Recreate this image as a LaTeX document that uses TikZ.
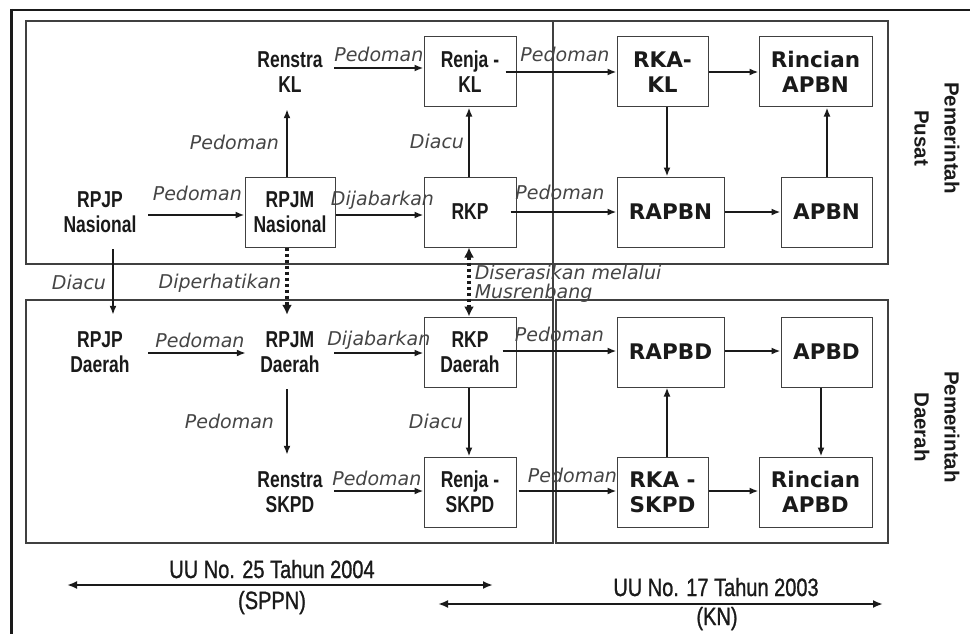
\documentclass[tikz,border=0pt]{standalone}
\usepackage{fontspec}
\setmainfont{Liberation Sans}
\newfontfamily\narrowfont[FakeStretch=0.76]{Liberation Sans}
\newfontfamily\legfont[FakeStretch=0.8,FakeBold=1]{Liberation Sans}
\newfontfamily\dvfont{DejaVu Sans}
\usetikzlibrary{arrows.meta}
\definecolor{ink}{HTML}{1A1A1A}
\definecolor{framec}{HTML}{404040}
\definecolor{lblc}{HTML}{454545}
\begin{document}
\begin{tikzpicture}[x=1pt,y=-1pt,
  txt/.style={text=ink, align=center, font=\narrowfont\bfseries\fontsize{23}{25}\selectfont, inner sep=0pt, minimum height=74pt, minimum width=88pt},
  nbox/.style={draw=framec, line width=1pt, text=ink, align=center, font=\narrowfont\bfseries\fontsize{23}{25}\selectfont, inner sep=0pt, minimum height=70pt},
  wbox/.style={nbox, font=\dvfont\bfseries\fontsize{21.5}{25}\selectfont},
  arr/.style={draw=ink, line width=2pt, -{Latex[length=9pt,width=7pt]}},
  dotarr/.style={draw=ink, line width=3.5pt, dash pattern=on 3pt off 3pt, -{Latex[length=10pt,width=10pt]}},
  dotboth/.style={draw=ink, line width=3.5pt, dash pattern=on 3pt off 3pt, {Latex[length=10pt,width=10pt]}-{Latex[length=10pt,width=10pt]}},
  lbl/.style={text=lblc, font=\dvfont\itshape\fontsize{19}{18.5}\selectfont, inner sep=0pt, anchor=base},
  vlbl/.style={lbl, anchor=base east},
  panel/.style={draw=framec, line width=1.1pt},
  leg/.style={text=ink, font=\legfont\fontsize{25}{28}\selectfont, inner sep=0pt, anchor=base},
  side/.style={text=ink, rotate=-90, align=center, font=\bfseries\fontsize{20.5}{30}\selectfont, inner sep=0pt},
  legarr/.style={draw=ink, line width=2pt, {Latex[length=10pt,width=8pt]}-{Latex[length=10pt,width=8pt]}}
]
\fill[white] (0,0) rectangle (970,634);
\useasboundingbox (0,0) rectangle (970,634);

% outer frame
\draw[ink, line width=2pt] (10,10) -- (970,10);
\draw[ink, line width=3pt] (11,9) -- (11,634);

% panels
\draw[panel] (26,21) rectangle (888,264);
\draw[panel] (553,21) -- (553,543);
\draw[panel] (26,300) rectangle (553,543);
\draw[panel] (556,300) rectangle (888,543);

% top nodes
\node[txt] (renstrakl) at (290,72) {Renstra\\KL};
\node[nbox, minimum width=92pt] (renjakl) at (470,72) {Renja -\\KL};
\node[wbox, minimum width=91pt] (rkakl) at (662.5,72) {RKA-\\KL};
\node[wbox, minimum width=113pt] (rincianapbn) at (815.5,72) {Rincian\\APBN};
\node[txt, minimum width=96pt] (rpjpn) at (100,212) {RPJP\\Nasional};
\node[nbox, minimum width=90pt] (rpjmn) at (290,212) {RPJM\\Nasional};
\node[nbox, minimum width=92pt] (rkp) at (470,212) {RKP};
\node[wbox, minimum width=107pt] (rapbn) at (670.5,212) {RAPBN};
\node[wbox, minimum width=91pt] (apbn) at (826.5,212) {APBN};

% bottom nodes
\node[txt, minimum width=96pt] (rpjpd) at (100,352) {RPJP\\Daerah};
\node[txt] (rpjmd) at (290,352) {RPJM\\Daerah};
\node[nbox, minimum width=92pt] (rkpd) at (470,352) {RKP\\Daerah};
\node[wbox, minimum width=107pt] (rapbd) at (670.5,352) {RAPBD};
\node[wbox, minimum width=91pt] (apbd) at (826.5,352) {APBD};
\node[txt] (renstraskpd) at (290,492) {Renstra\\SKPD};
\node[nbox, minimum width=92pt] (renjaskpd) at (470,492) {Renja -\\SKPD};
\node[wbox, minimum width=91pt] (rkaskpd) at (662.5,492) {RKA -\\SKPD};
\node[wbox, minimum width=113pt] (rincianapbd) at (815.5,492) {Rincian\\APBD};

% side titles
\node[side] (pusat) at (937,138) {Pemerintah\\Pusat};
\node[side] (daerah) at (937,427) {Pemerintah\\Daerah};

% top horizontal arrows
\draw[arr] ([yshift=4pt]renstrakl.east) -- node[lbl, yshift=6pt] (lp1) {Pedoman} ([yshift=4pt]renjakl.west);
\draw[arr] ([xshift=-11pt]renjakl.east) -- node[lbl, yshift=10pt, xshift=4pt] (lp2) {Pedoman} (rkakl.west);
\draw[arr] (rkakl.east) -- (rincianapbn.west);
\draw[arr] ([yshift=-3pt]rpjpn.east) -- node[lbl, yshift=15pt, xshift=1pt] (lp3) {Pedoman} ([yshift=-3pt]rpjmn.west);
\draw[arr] ([yshift=-3pt]rpjmn.east) -- node[lbl, yshift=10pt, xshift=3pt] (lj1) {Dijabarkan} ([yshift=-3pt]rkp.west);
\draw[arr] ([xshift=-6pt]rkp.east) -- node[lbl, yshift=13pt, xshift=-3.5pt] (lp4) {Pedoman} (rapbn.west);
\draw[arr] (rapbn.east) -- (apbn.west);

% top vertical arrows
\draw[arr] ([xshift=-3pt]rpjmn.north) -- node[vlbl, xshift=-7pt, yshift=-7pt] (lp5) {Pedoman} ([xshift=-3pt]renstrakl.south);
\draw[arr] ([xshift=-1pt]rkp.north) -- node[vlbl, xshift=-4pt, yshift=-6pt] (ld1) {Diacu} ([xshift=-1pt]renjakl.south);
\draw[arr] ([xshift=4.5pt]rkakl.south) -- ([xshift=-3.5pt]rapbn.north);
\draw[arr] ([xshift=0.5pt]apbn.north) -- ([xshift=11.5pt]rincianapbn.south);

% links between levels
\draw[arr] ([xshift=13pt]rpjpn.south) -- node[vlbl, xshift=-6pt, yshift=-7pt] (ld2) {Diacu} ([xshift=13pt]rpjpd.north);
\draw[dotarr] ([xshift=-3pt]rpjmn.south) -- node[vlbl, xshift=-4pt, yshift=-7pt] (ldp) {Diperhatikan} ([xshift=-3pt]rpjmd.north);
\draw[dotboth] ([xshift=-1pt]rkp.south) -- node[lbl, anchor=north west, align=left, xshift=4pt, yshift=18.5pt] (lds) {Diserasikan melalui\\Musrenbang} ([xshift=-1pt]rkpd.north);

% bottom horizontal arrows
\draw[arr] ([yshift=-1pt]rpjpd.east) -- node[lbl, yshift=6pt, xshift=3pt] (lp6) {Pedoman} ([yshift=-1pt]rpjmd.west);
\draw[arr] ([yshift=-1pt]rpjmd.east) -- node[lbl, yshift=8pt] (lj2) {Dijabarkan} ([yshift=-1pt]rkpd.west);
\draw[arr] ([xshift=-14pt, yshift=1pt]rkpd.east) -- node[lbl, yshift=10pt] (lp7) {Pedoman} ([yshift=1pt]rapbd.west);
\draw[arr] ([yshift=1pt]rapbd.east) -- ([yshift=1pt]apbd.west);
\draw[arr] ([yshift=1pt]renstraskpd.east) -- node[lbl, yshift=6pt, xshift=-2pt] (lp8) {Pedoman} ([yshift=1pt]renjaskpd.west);
\draw[arr] ([xshift=2pt, yshift=1pt]renjaskpd.east) -- node[lbl, yshift=9pt, xshift=5pt] (lp9) {Pedoman} ([yshift=1pt]rkaskpd.west);
\draw[arr] ([yshift=1pt]rkaskpd.east) -- ([yshift=1pt]rincianapbd.west);

% bottom vertical arrows
\draw[arr] ([xshift=-3pt]rpjmd.south) -- node[vlbl, xshift=-12pt, yshift=-6pt] (lp10) {Pedoman} ([xshift=-3pt]renstraskpd.north);
\draw[arr] ([xshift=-1pt]rkpd.south) -- node[vlbl, xshift=-5pt, yshift=-6pt] (ld3) {Diacu} ([xshift=-1pt]renjaskpd.north);
\draw[arr] ([xshift=4.5pt]rkaskpd.north) -- ([xshift=-3.5pt]rapbd.south);
\draw[arr] ([xshift=-5.5pt]apbd.south) -- ([xshift=5.5pt]rincianapbd.north);

% legend
\coordinate (ua) at (67,585);
\coordinate (ub) at (493,585);
\coordinate (va) at (438,604);
\coordinate (vb) at (883,604);
\draw[legarr] (ua) -- (ub);
\draw[legarr] (va) -- (vb);
\node[leg] (uu25) at (272,578) {UU No. 25 Tahun 2004};
\node[leg] (sppn) at (272,609) {(SPPN)};
\node[leg] (uu17) at (716,596) {UU No. 17 Tahun 2003};
\node[leg] (kn) at (717,625) {(KN)};
\end{tikzpicture}
\end{document}
